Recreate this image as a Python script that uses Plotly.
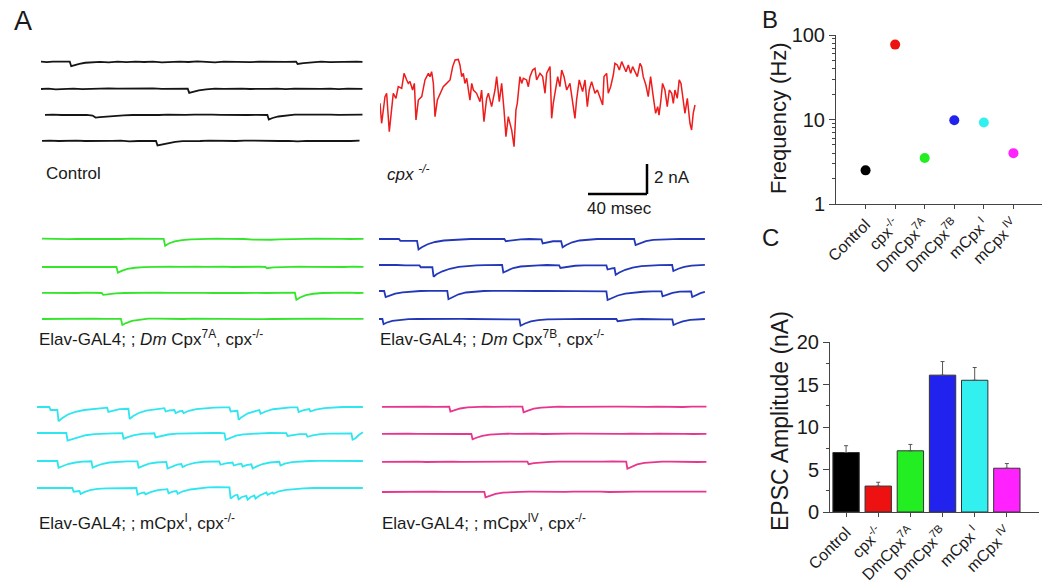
import plotly.graph_objects as go

W, H = 1050, 581
# the page body adds an 8 px margin, so layout pixel positions are shifted back by this much
PAGE_PAD = 8

# ---- Panel A: sweeps as (time ms, current nA) points ----
CONTROL_SWEEPS = [
    [(0, 0.02), (4, -0.01), (8, 0.03), (12, 0.01), (16, 0.04), (19.5, 0.02), (20.5, -0.28), (23, -0.2), (26, -0.12),
     (30, -0.05), (35, -0.03), (40, 0.01), (46, -0.02), (52, 0.02), (58, -0.01), (64, 0.03), (70, 0), (76, 0.02),
     (82, -0.02), (88, 0.01), (94, 0.03), (100, 0.0), (106, 0.04), (112, 0.01), (118, -0.02), (124, 0.02), (130, 0.0),
     (136, 0.03), (142, -0.01), (148, 0.02), (154, 0.0), (160, 0.03), (166, 0.01), (173, 0.03), (174, -0.13),
     (178, -0.08), (184, -0.02), (190, 0.02), (196, -0.01), (202, 0.02), (208, 0.0), (214, 0.03), (218, 0.01)],
    [(0, 0), (5, 0.02), (10, -0.02), (16, 0.01), (22, 0.03), (28, -0.01), (34, 0.02), (40, 0.0), (46, 0.04), (52, 0.02),
     (58, 0.03), (64, 0.05), (70, 0.02), (76, 0.04), (82, 0.01), (88, 0.03), (94, 0.0), (99.5, 0.02), (100.5, -0.26),
     (103, -0.18), (107, -0.09), (112, -0.02), (118, 0.03), (124, 0.01), (130, 0.04), (136, 0.02), (142, 0.0),
     (148, 0.03), (154, 0.01), (160, 0.02), (166, -0.01), (172, 0.02), (178, 0.0), (184, 0.03), (190, 0.01), (196, 0.02),
     (202, -0.01), (208, 0.02), (214, 0.0), (218, 0.01)],
    [(2.7, 0.01), (8, 0.03), (14, 0.0), (20, 0.02), (26, -0.01), (31, 0.01), (35, -0.04), (37, -0.17), (40, -0.14),
     (44, -0.1), (50, -0.05), (56, -0.03), (62, 0.0), (68, -0.01), (74, 0.02), (80, 0.0), (86, 0.02), (92, -0.01),
     (98, 0.01), (104, 0.03), (110, 0.0), (116, 0.02), (122, 0.01), (128, -0.01), (134, 0.02), (140, 0.0), (146, 0.01),
     (153.5, 0.0), (154.5, -0.3), (157, -0.2), (161, -0.1), (166, -0.03), (172, 0.02), (178, 0.03), (184, 0.01),
     (190, 0.04), (196, 0.02), (202, 0.01), (208, 0.03), (214, 0.0), (218, 0.02)],
    [(0.7, 0.01), (6, 0.03), (12, 0.0), (18, 0.02), (24, 0.03), (30, 0.0), (36, 0.02), (42, -0.01), (48, 0.01), (54, 0.02),
     (60, -0.02), (66, 0.0), (72, 0.01), (78, 0.0), (79, -0.3), (82, -0.24), (86, -0.14), (91, -0.06), (96, -0.01),
     (102, 0.02), (108, 0.0), (114, 0.03), (120, 0.01), (126, 0.02), (132, 0.0), (138, 0.03), (144, 0.01), (150, -0.01),
     (156, 0.02), (162, 0.0), (168, 0.01), (174, -0.02), (180, 0.01), (186, 0.0), (192, 0.02), (198, -0.01), (204, 0.01),
     (210, 0.0), (216, 0.02)],
]

CPX_SWEEP = [
    (0, -2.89), (1.1, -4.22), (3.4, -2.44), (4.5, -2.22), (6.3, -4.78), (7.9, -3.11), (9.0, -2.22), (10.8, -2.56),
    (12.4, -1.78), (14.7, -1.89), (16.3, -0.89), (18.1, -1.33), (19.2, -1.56), (20.3, -1.44), (22.1, -2.0),
    (23.3, -1.56), (24.4, -4.0), (26.0, -2.67), (28.3, -2.44), (30.5, -1.33), (32.8, -0.89), (33.9, -1.11),
    (35.0, -0.78), (36.2, -1.56), (37.3, -3.78), (38.9, -2.67), (40.7, -2.22), (42.9, -1.78), (45.2, -1.56),
    (47.5, -1.33), (49.3, -0.44), (50.9, 0.0), (53.1, 0.04), (54.2, -0.33), (55.4, -1.11), (56.5, -0.89),
    (57.6, -1.56), (58.8, -1.22), (61.0, -2.67), (62.2, -1.56), (63.3, -2.0), (65.5, -2.22), (67.8, -2.78),
    (68.9, -2.0), (70.5, -4.11), (72.3, -2.56), (73.5, -2.22), (75.7, -3.11), (78.0, -2.0), (79.1, -1.11),
    (80.9, -2.78), (82.5, -1.56), (84.1, -3.33), (85.4, -5.11), (87.0, -3.78), (88.1, -4.22), (89.3, -4.67),
    (90.9, -5.78), (92.2, -3.33), (93.1, -2.89), (94.9, -1.11), (96.1, -1.56), (97.2, -1.22), (99.4, -1.33),
    (100.6, -1.78), (101.7, -1.11), (103.5, -0.67), (105.1, -0.56), (106.2, -1.33), (108.5, -0.89), (110.3, -1.11),
    (111.9, -2.22), (113.0, -0.89), (115.3, -0.44), (116.4, -3.89), (117.5, -2.89), (118.7, -2.22), (120.5, -1.11),
    (122.0, -1.78), (123.2, -0.67), (124.8, -1.11), (126.6, -2.0), (128.8, -1.56), (131.1, -3.11), (132.2, -3.89),
    (133.3, -2.67), (135.1, -1.33), (137.4, -2.11), (139.0, -1.33), (140.6, -3.11), (141.9, -2.0), (143.5, -1.44),
    (144.6, -1.89), (145.8, -2.22), (147.4, -2.0), (148.7, -2.33), (151.0, -3.0), (151.9, -1.11), (153.7, -0.89),
    (154.8, -2.22), (156.4, -1.78), (158.2, -1.0), (159.3, -0.22), (160.9, -0.33), (162.3, -0.67), (163.9, -0.11),
    (165.4, -0.44), (166.8, -0.78), (168.4, -0.33), (170.0, -0.89), (171.3, -0.44), (172.9, -0.78), (174.5, -1.11),
    (176.3, -0.22), (177.4, -0.44), (178.5, -1.11), (180.3, -1.67), (181.9, -2.44), (183.5, -1.11), (185.3, -2.44),
    (186.9, -3.56), (188.3, -3.11), (189.2, -3.67), (190.5, -2.67), (191.6, -1.56), (193.2, -2.0), (194.8, -3.11),
    (196.2, -2.0), (197.8, -2.22), (198.9, -2.89), (200.0, -2.0), (201.6, -2.56), (202.9, -1.33), (204.1, -1.56),
    (205.7, -2.67), (206.8, -3.56), (208.4, -2.56), (209.1, -3.11), (210.2, -4.22), (211.3, -4.67), (212.4, -3.56),
    (213.6, -3.0),
]

DM7A_SWEEPS = [
    [(0, 0.02), (6, 0.0), (12, 0.02), (18, -0.01), (24, 0.01), (30, 0.0), (36, 0.02), (42, 0.01), (48, -0.02), (54, 0.0),
     (60, 0.02), (66, 0.01), (72, 0.0), (78, 0.02), (82.5, 0.01), (83.5, -0.45), (86, -0.3), (90, -0.16), (95, -0.07),
     (101, -0.02), (107, 0.01), (113, 0.0), (119, 0.02), (125, 0.01), (131, 0.02), (137, 0.0), (143, -0.04),
     (149, -0.06), (155, -0.05), (161, -0.03), (167, 0.0), (173, 0.02), (179, 0.01), (185, 0.02), (191, 0.0),
     (197, 0.02), (203, 0.01), (209, 0.0), (215, 0.02), (218, 0.01)],
    [(0, 0.0), (6, 0.02), (12, 0.01), (18, 0.0), (24, 0.02), (30, -0.01), (36, 0.01), (42, 0.0), (50.5, 0.01),
     (51.5, -0.38), (54, -0.26), (58, -0.13), (63, -0.05), (69, -0.01), (75, 0.01), (81, 0.0), (87, 0.02), (93, 0.01),
     (99, 0.03), (105, 0.02), (111, 0.01), (117, 0.03), (123, 0.02), (129, 0.0), (135, 0.02), (141, 0.01), (147, 0.02),
     (151.5, 0.0), (152.5, -0.08), (157, -0.02), (163, 0.01), (169, 0.0), (175, 0.02), (181, 0.01), (187, 0.0),
     (193, 0.02), (199, 0.01), (205, 0.0), (211, 0.02), (218, 0.01)],
    [(0, 0.01), (6, 0.0), (12, 0.02), (18, 0.01), (24, 0.0), (30, 0.02), (36, 0.01), (40.5, 0.0), (41.5, -0.12),
     (45, -0.07), (50, -0.02), (56, 0.0), (62, 0.02), (68, 0.01), (74, 0.02), (80, 0.03), (86, 0.01), (92, 0.02),
     (98, 0.0), (104, 0.02), (110, 0.01), (116, 0.0), (122, 0.02), (128, 0.01), (134, 0.0), (140, 0.02), (146, 0.01),
     (152, 0.0), (158, 0.02), (164, 0.01), (171.5, 0.02), (172.5, -0.45), (175, -0.3), (179, -0.14), (184, -0.05),
     (190, 0.0), (196, 0.02), (202, 0.01), (208, 0.02), (214, 0.0), (218, 0.01)],
    [(0, 0.0), (6, 0.01), (12, 0.02), (18, 0.03), (24, 0.02), (30, 0.01), (36, 0.03), (42, 0.01), (48, 0.0),
     (53.5, 0.01), (54.5, -0.4), (57, -0.27), (61, -0.12), (66, -0.04), (72, 0.02), (78, 0.03), (84, 0.01), (90, 0.02),
     (96, 0.0), (102, 0.02), (108, 0.01), (114, 0.02), (120, 0.0), (126, 0.01), (132, -0.01), (138, 0.0), (144, -0.02),
     (150, -0.01), (156, 0.0), (162, 0.01), (168, 0.02), (174, 0.0), (180, 0.02), (186, 0.01), (192, 0.03),
     (198, 0.01), (204, 0.02), (210, 0.0), (218, 0.01)],
]

DM7B_SWEEPS = [
    [(0, 0.0), (5, 0.02), (10, 0.0), (13.5, 0.01), (14.5, -0.12), (20, -0.1), (25.8, -0.12), (26.8, -0.7), (29, -0.55),
     (33, -0.35), (38, -0.2), (44, -0.1), (50, -0.05), (56, -0.02), (62, 0.0), (68, 0.01), (74, 0.0), (80, 0.01),
     (85, 0.0), (86, -0.15), (90, -0.08), (96, -0.02), (102, 0.0), (108, -0.02), (110.2, -0.03), (111, -0.3),
     (114, -0.22), (118, -0.15), (123.5, -0.14), (124.5, -0.55), (127, -0.4), (131, -0.22), (136, -0.1), (142, -0.04),
     (148, 0.0), (154, 0.01), (160, 0.0), (166, 0.01), (173, 0.0), (174, -0.4), (177, -0.27), (181, -0.14),
     (186, -0.06), (192, -0.02), (198, 0.0), (204, 0.01), (210, 0.0), (216, 0.01), (221, 0.0)],
    [(0, 0.0), (6, 0.01), (12, 0.0), (18, -0.03), (24, -0.02), (27.5, -0.03), (28.3, -0.15), (32, -0.13), (36.2, -0.14),
     (37, -0.78), (39, -0.62), (43, -0.42), (48, -0.25), (54, -0.13), (60, -0.06), (66, -0.03), (72, -0.01), (78, 0.0),
     (83.5, 0.0), (84.3, -0.5), (87, -0.36), (91, -0.2), (96, -0.1), (102, -0.04), (108, -0.02), (114, 0.0),
     (122.2, -0.02), (123, -0.2), (127, -0.12), (133, -0.05), (139, -0.02), (145, 0.0), (150, -0.02), (154.2, -0.03),
     (155, -0.3), (158, -0.22), (159.7, -0.2), (160.5, -0.65), (163, -0.5), (167, -0.32), (172, -0.17), (178, -0.08),
     (184, -0.03), (190, -0.01), (198.8, 0.0), (199.6, -0.4), (203, -0.25), (207, -0.12), (212, -0.04), (217, 0.0),
     (221, 0.01)],
    [(0, 0.0), (3.5, 0.0), (4.5, -0.4), (7, -0.3), (11, -0.18), (16, -0.09), (22, -0.03), (28, 0.0), (34, 0.01),
     (40, 0.0), (46.3, 0.01), (47.1, -0.55), (50, -0.4), (54, -0.22), (59, -0.1), (65, -0.04), (71, 0.0), (77, 0.01),
     (83, 0.0), (89, 0.01), (95, 0.0), (101, -0.01), (107, 0.0), (113, 0.01), (119, 0.0), (125, -0.02), (131, 0.0),
     (137, -0.01), (143, -0.02), (149, -0.02), (154.2, -0.03), (155, -0.6), (158, -0.46), (162, -0.3), (167, -0.18),
     (173, -0.1), (179, -0.05), (185, -0.02), (191.5, -0.02), (192.3, -0.35), (195, -0.25), (199, -0.12),
     (204, -0.04), (208, -0.01), (211.6, -0.02), (212.4, -0.4), (215, -0.28), (218, -0.14), (221, -0.06)],
    [(0, 0.0), (2.3, 0.0), (3.1, -0.35), (5, -0.25), (9, -0.12), (14, -0.05), (20, -0.01), (26, 0.0), (32, 0.01),
     (38, 0.0), (44, 0.01), (50, 0.0), (56, 0.01), (62, 0.0), (68, -0.01), (74, 0.0), (80, -0.02), (86, -0.01),
     (92, -0.03), (95.2, -0.03), (96, -0.45), (99, -0.3), (103, -0.16), (108, -0.07), (114, -0.02), (120, 0.0),
     (126, 0.01), (132, 0.0), (138, 0.01), (144, 0.0), (150, 0.01), (156, 0.0), (161, 0.0), (161.8, -0.15), (166, -0.08),
     (172, -0.02), (178, 0.0), (184, 0.01), (190, 0.0), (194, -0.02), (198.9, -0.03), (199.7, -0.4), (202, -0.3),
     (206, -0.16), (211, -0.06), (216, -0.01), (221, 0.0)],
]

MCPX1_SWEEPS = [
    [(0, 0.0), (4, 0.02), (8.4, 0.0), (9.2, -0.2), (12, -0.18), (13.8, -0.2), (14.6, -0.95), (17, -0.75), (21, -0.5),
     (26, -0.32), (32, -0.2), (38, -0.12), (44, -0.06), (47.6, -0.04), (48.4, -0.33), (52, -0.22), (56, -0.14),
     (62, -0.12), (62.8, -0.8), (65, -0.62), (69, -0.4), (74, -0.24), (80, -0.14), (86.4, -0.08), (87.2, -0.3),
     (90, -0.22), (93.2, -0.2), (94, -0.4), (97, -0.28), (98.6, -0.27), (99.4, -0.4), (103, -0.25), (108, -0.14),
     (114, -0.08), (120, -0.04), (126, -0.02), (130.5, -0.02), (131.3, -0.3), (134, -0.25), (135.9, -0.25),
     (136.7, -0.85), (139, -0.66), (143, -0.42), (148, -0.25), (150.8, -0.2), (151.6, -0.45), (155, -0.3),
     (160, -0.15), (166, -0.07), (172, -0.03), (176.6, -0.02), (177.4, -0.33), (181, -0.2), (184.6, -0.14),
     (185.4, -0.3), (189, -0.18), (195, -0.08), (201, -0.03), (207, 0.0), (213, 0.01), (221, 0.0)],
    [(0, 0.0), (5, 0.01), (10, 0.0), (15, 0.01), (19.9, 0.0), (20.7, -0.5), (24, -0.4), (28, -0.26), (33, -0.15),
     (39, -0.08), (45, -0.04), (51, -0.02), (57.9, -0.01), (58.7, -0.38), (62, -0.26), (66, -0.14), (71, -0.06),
     (76, -0.03), (79.6, -0.02), (80.4, -0.3), (84, -0.2), (89, -0.1), (95, -0.04), (101, -0.02), (107, 0.0),
     (113, 0.01), (119, 0.0), (124, 0.0), (127.1, -0.02), (127.9, -0.45), (131, -0.32), (135, -0.18), (140, -0.09),
     (146, -0.04), (152, -0.02), (158, 0.0), (164, 0.0), (169.1, -0.01), (169.9, -0.2), (174, -0.12), (178, -0.08),
     (182.6, -0.07), (183.4, -0.25), (187, -0.16), (192, -0.08), (198, -0.04), (204, -0.02), (209, -0.02),
     (213.2, -0.02), (214, -0.45), (216, -0.35), (218, -0.15), (221, 0.05)],
    [(0, 0.0), (5, 0.01), (10, 0.0), (13.8, 0.0), (14.6, -0.45), (17, -0.35), (21, -0.2), (26, -0.1), (31, -0.04),
     (36.9, -0.02), (37.7, -0.45), (40, -0.34), (44, -0.2), (49, -0.1), (55, -0.04), (61, -0.02), (68.1, -0.02),
     (68.9, -0.45), (72, -0.32), (76, -0.18), (81, -0.1), (87.7, -0.06), (88.5, -0.5), (91, -0.38), (95, -0.24),
     (97.9, -0.2), (98.7, -0.4), (102, -0.25), (107, -0.12), (113, -0.05), (119, -0.02), (123.6, -0.02),
     (124.4, -0.25), (128, -0.16), (132.6, -0.1), (133.4, -0.3), (136, -0.22), (138.6, -0.18), (139.4, -0.38),
     (142, -0.28), (145.4, -0.22), (146.2, -0.5), (149, -0.36), (153, -0.2), (158, -0.1), (164.3, -0.05),
     (165.1, -0.3), (168, -0.18), (173, -0.08), (179, -0.03), (185, 0.0), (191, 0.01), (197, 0.0), (203, 0.01),
     (209, 0.0), (215, 0.01), (221, 0.0)],
    [(0, 0.0), (5, 0.01), (10, 0.02), (15, 0.01), (20, 0.02), (24, 0.0), (24.8, -0.25), (28.8, -0.2), (29.6, -0.4),
     (32, -0.28), (36, -0.14), (41, -0.06), (47, -0.02), (53, 0.0), (59, 0.01), (65, 0.0), (67.4, 0.0), (68.2, -0.45),
     (71, -0.32), (72.8, -0.3), (73.6, -0.42), (77, -0.28), (82, -0.14), (88.4, -0.08), (89.2, -0.35), (92, -0.24),
     (94.6, -0.2), (95.4, -0.38), (99, -0.22), (104, -0.1), (110, -0.02), (116, 0.04), (122, 0.06), (127, 0.05),
     (130.5, 0.04), (131.3, -0.7), (134, -0.5), (135.9, -0.45), (136.7, -0.75), (139, -0.6), (142, -0.52),
     (142.8, -0.78), (145, -0.6), (147.4, -0.5), (148.2, -0.7), (151, -0.5), (155.6, -0.3), (156.4, -0.45),
     (159.6, -0.3), (160.4, -0.38), (164, -0.22), (169, -0.12), (175, -0.05), (181, -0.02), (187, 0.0), (193, 0.01),
     (199, 0.0), (205, 0.01), (211, 0.0), (216, 0.01), (221, 0.0)],
]

MCPX4_SWEEPS = [
    [(0, 0.01), (6, 0.02), (12, 0.0), (18, 0.02), (24, 0.01), (30, 0.03), (36, 0.01), (41, 0.02), (45.6, 0.02),
     (46.4, -0.3), (49, -0.2), (53, -0.1), (58, -0.03), (64, 0.01), (70, 0.02), (76, 0.01), (82, 0.03), (88, 0.02),
     (95.2, 0.02), (96, -0.35), (99, -0.24), (103, -0.11), (108, -0.04), (114, 0.0), (120, 0.02), (126, 0.01),
     (132, 0.02), (138, 0.0), (144, 0.02), (150, 0.01), (156, 0.03), (162, 0.02), (168, 0.0), (174, 0.02), (180, 0.01),
     (186, 0.03), (192, 0.01), (198, 0.02), (204, 0.0), (210, 0.02), (216, 0.01), (220, 0.02)],
    [(0, 0.01), (6, 0.03), (12, 0.0), (18, 0.02), (24, 0.01), (30, 0.0), (36, 0.02), (42, 0.01), (48, -0.01), (54, 0.0),
     (60.6, 0.01), (61.4, -0.35), (64, -0.25), (68, -0.12), (73, -0.04), (79, 0.0), (85, 0.02), (91, 0.01), (97, 0.03),
     (103, 0.02), (109, 0.0), (115, 0.02), (121, 0.01), (127, 0.03), (133, 0.02), (139, 0.01), (145, 0.03), (151, 0.0),
     (157, 0.02), (163, 0.01), (169, 0.02), (175, 0.0), (181, 0.01), (187, 0.02), (193, 0.0), (199, 0.02), (205, 0.01),
     (211, 0.0), (216, 0.02), (220, 0.01)],
    [(0, 0.01), (6, 0.02), (12, 0.0), (18, 0.01), (24, 0.02), (30, 0.0), (36, 0.02), (42, 0.01), (48, 0.03), (54, 0.01),
     (60, 0.02), (66, 0.0), (72, 0.02), (78, 0.01), (84, 0.03), (90, 0.02), (98.6, 0.02), (99.4, -0.15), (103, -0.08),
     (108, -0.02), (114, 0.01), (120, 0.02), (126, 0.0), (132, 0.02), (138, 0.03), (144, 0.01), (150, 0.02),
     (156, 0.04), (161, 0.02), (165.6, 0.03), (166.4, -0.45), (169, -0.32), (173, -0.16), (178, -0.06), (184, 0.0),
     (190, 0.02), (196, 0.03), (202, 0.01), (208, 0.02), (214, 0.0), (220, 0.01)],
    [(0, 0.0), (6, 0.01), (12, 0.0), (18, 0.02), (24, 0.01), (30, 0.0), (36, 0.02), (42, 0.01), (48, 0.0), (54, 0.02),
     (60, 0.01), (65, 0.02), (69.4, 0.01), (70.2, -0.35), (73, -0.26), (77, -0.12), (82, -0.04), (88, 0.0), (94, 0.01),
     (100, 0.02), (106, 0.01), (112, 0.0), (118, 0.02), (124, 0.01), (130, 0.02), (136, 0.03), (142, 0.01), (148, 0.02),
     (154, 0.0), (160, 0.02), (166, 0.01), (172, 0.03), (178, 0.02), (184, 0.01), (190, 0.03), (196, 0.02),
     (202, 0.01), (208, 0.02), (214, 0.03), (220, 0.02)],
]

SCALE_MS = 40
SCALE_NA = 2

# ---- Panels B and C ----
GROUP_LABELS = ["Control", "cpx<sup>-/-</sup>", "DmCpx<sup>7A</sup>", "DmCpx<sup>7B</sup>",
                "mCpx<sup> I</sup>", "mCpx<sup> IV</sup>"]
FREQ_HZ = [2.5, 77, 3.5, 9.8, 9.2, 4.0]
EPSC_NA = [7.0, 3.05, 7.2, 16.1, 15.5, 5.15]
EPSC_SEM = [0.8, 0.45, 0.75, 1.6, 1.5, 0.55]

COLORS = ["#000000", "#ee1111", "#22ee22", "#2222ee", "#33f0f0", "#ff22ff"]
TRACE_COLORS = ["#151515", "#ee1c1c", "#33e62a", "#2338b8", "#2ee6f0", "#e8358e"]

PX_PER_MS = 320 / 217
PX_PER_NA = 15
FONT = "Liberation Sans, Arial, sans-serif"
INK = "#1a1a1a"


def fx(px):
    return (px - PAGE_PAD) / W


def fy(py):
    return 1 - (py - PAGE_PAD) / H


fig = go.Figure()

# sweeps, colour, left edge px, baseline px per sweep, top px, bottom px
panels = [
    (CONTROL_SWEEPS, TRACE_COLORS[0], 41, [62, 89, 115, 141], 45, 152),
    ([CPX_SWEEP], TRACE_COLORS[1], 380, [60], 45, 205),
    (DM7A_SWEEPS, TRACE_COLORS[2], 42, [239, 267, 293, 319], 225, 330),
    (DM7B_SWEEPS, TRACE_COLORS[3], 379, [239, 265, 291, 319], 225, 330),
    (MCPX1_SWEEPS, TRACE_COLORS[4], 37, [407, 433, 461, 488], 392, 505),
    (MCPX4_SWEEPS, TRACE_COLORS[5], 382, [407, 434, 462, 492], 392, 505),
]

for n, (sweeps, color, left, bases, top, bottom) in enumerate(panels, start=1):
    ax = "" if n == 1 else str(n)
    for sweep, base in zip(sweeps, bases):
        shift = (base - bases[0]) / PX_PER_NA
        fig.add_trace(go.Scatter(
            x=[p[0] for p in sweep], y=[p[1] - shift for p in sweep], mode="lines",
            line=dict(color=color, width=1.8 if n != 2 else 1.5),
            xaxis="x" + ax, yaxis="y" + ax, hoverinfo="skip", showlegend=False,
        ))
    fig.layout["xaxis" + ax] = dict(domain=[fx(left), fx(left + 225 * PX_PER_MS)], range=[0, 225],
                                    visible=False, anchor="y" + ax, fixedrange=True, automargin=False)
    fig.layout["yaxis" + ax] = dict(domain=[fy(bottom), fy(top)],
                                    range=[-(bottom - bases[0]) / PX_PER_NA, (bases[0] - top) / PX_PER_NA],
                                    visible=False, anchor="x" + ax, fixedrange=True, automargin=False)

# scale bar in the cpx-/- panel
bar_t = (647 - 380) / PX_PER_MS
bar_y = -(194 - 60) / PX_PER_NA
fig.add_shape(type="line", xref="x2", yref="y2", x0=bar_t - SCALE_MS, x1=bar_t, y0=bar_y, y1=bar_y,
              line=dict(color="black", width=2.5))
fig.add_shape(type="line", xref="x2", yref="y2", x0=bar_t, x1=bar_t, y0=bar_y, y1=bar_y + SCALE_NA,
              line=dict(color="black", width=2.5))

cats = list(range(1, 7))
# Panel B: frequency (log)
fig.add_trace(go.Scatter(x=cats, y=FREQ_HZ, mode="markers", marker=dict(color=COLORS, size=10),
                         xaxis="x7", yaxis="y7", showlegend=False))
# Panel C: EPSC amplitude
fig.add_trace(go.Bar(x=cats, y=EPSC_NA, width=0.82, marker=dict(color=COLORS, line=dict(color="#333", width=1)),
                     error_y=dict(type="data", array=EPSC_SEM, arrayminus=[0] * 6, symmetric=False,
                                  color="#555", thickness=1, width=2),
                     xaxis="x8", yaxis="y8", showlegend=False))

axis_common = dict(showline=True, linecolor="#444", linewidth=1, ticks="outside", tickcolor="#444",
                   ticklen=4, showgrid=False, zeroline=False, fixedrange=True, automargin=False)
cat_axis = dict(axis_common, tickmode="array", tickvals=cats, ticktext=GROUP_LABELS, tickangle=-45,
                tickfont=dict(family=FONT, size=16, color=INK))

fig.layout["xaxis7"] = dict(cat_axis, domain=[fx(836), fx(1043)], range=[0, 7], anchor="y7")
fig.layout["yaxis7"] = dict(axis_common, domain=[fy(204), fy(35)], type="log", range=[0, 2],
                            tickmode="array", tickvals=[1, 10, 100], ticktext=["1", "10", "100"], ticklen=6,
                            minor=dict(tickvals=[2, 3, 4, 5, 6, 7, 8, 9, 20, 30, 40, 50, 60, 70, 80, 90],
                                       ticks="outside", ticklen=3, tickcolor="#444"),
                            tickfont=dict(family=FONT, size=20, color=INK), anchor="x7")
fig.layout["xaxis8"] = dict(cat_axis, domain=[fx(830), fx(1039)], range=[0.5, 7], anchor="y8")
fig.layout["yaxis8"] = dict(axis_common, domain=[fy(512), fy(342)], range=[0, 20], dtick=5, ticklen=6,
                            minor=dict(dtick=2.5, ticks="outside", ticklen=3, tickcolor="#444"),
                            tickfont=dict(family=FONT, size=20, color=INK), anchor="x8")


def label(text, x, y, size=17, angle=0, xanchor="left"):
    fig.add_annotation(text=text, x=fx(x), y=fy(y), xref="paper", yref="paper", showarrow=False,
                       xanchor=xanchor, yanchor="middle", textangle=angle,
                       font=dict(family=FONT, size=size, color=INK))


label("A", 12, 21, size=27)
label("B", 760, 19, size=24)
label("C", 760, 237, size=24)
label("Control", 44, 173)
label("<i>cpx <sup>-/-</sup></i>", 385, 173)
label("2 nA", 652, 177)
label("40 msec", 585, 209)
label("Elav-GAL4; ; <i>Dm</i> Cpx<sup>7A</sup>, cpx<sup>-/-</sup>", 37, 338)
label("Elav-GAL4; ; <i>Dm</i> Cpx<sup>7B</sup>, cpx<sup>-/-</sup>", 378, 338)
label("Elav-GAL4; ; mCpx<sup>I</sup>, cpx<sup>-/-</sup>", 37, 522)
label("Elav-GAL4; ; mCpx<sup>IV</sup>, cpx<sup>-/-</sup>", 380, 522)
label("Frequency (Hz)", 778, 118, size=22, angle=-90, xanchor="center")
label("EPSC Amplitude (nA)", 780, 421, size=23, angle=-90, xanchor="center")

fig.update_layout(template="none", width=W, height=H, margin=dict(l=0, r=0, t=0, b=0, pad=0),
                  plot_bgcolor="white", paper_bgcolor="white", showlegend=False,
                  font=dict(family=FONT, color=INK))

fig.write_html("out.html")
